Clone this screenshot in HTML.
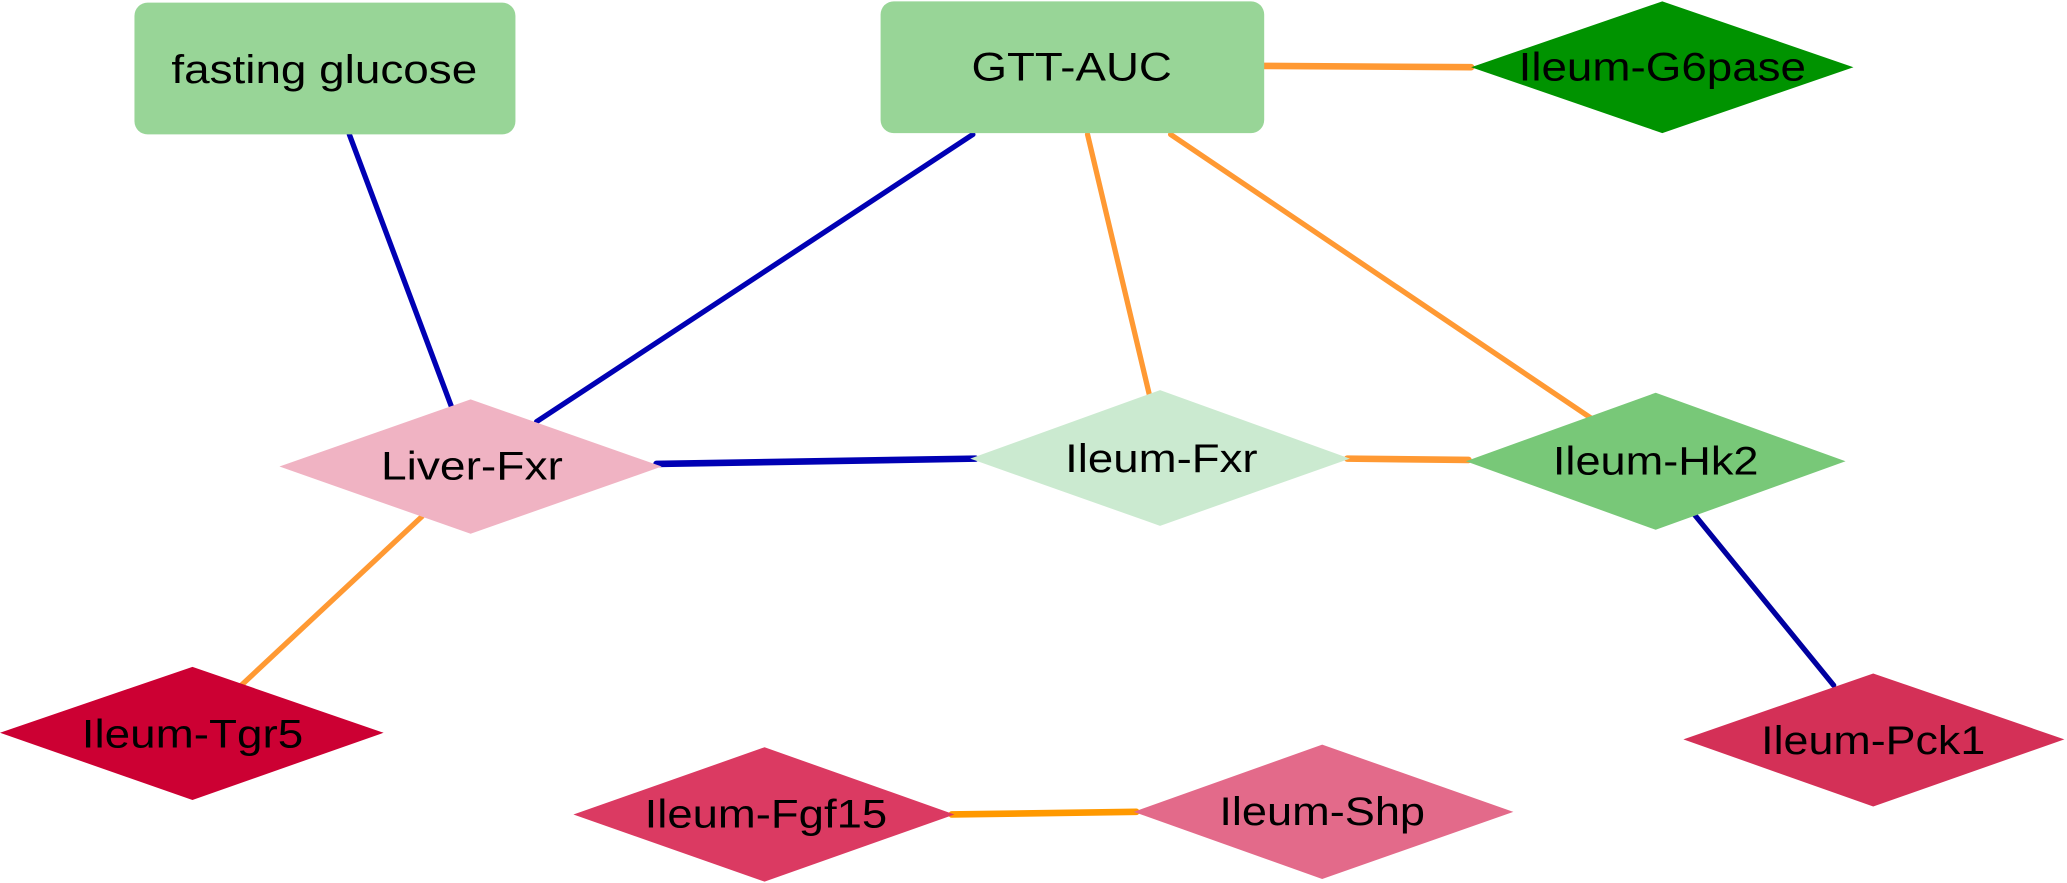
<!DOCTYPE html>
<html><head><meta charset="utf-8"><style>html,body{margin:0;padding:0;background:#fff;}svg{display:block;}</style></head>
<body>
<svg width="2067" height="883" viewBox="0 0 1568 670" preserveAspectRatio="none" xmlns="http://www.w3.org/2000/svg" font-family="Liberation Sans, Arial, sans-serif" font-size="30">
<g stroke-linecap="round">
<line x1="265" y1="102" x2="343" y2="310" stroke="#0000b4" stroke-width="4"/>
<line x1="738" y1="102" x2="407" y2="320" stroke="#0000b4" stroke-width="4"/>
<line x1="498" y1="352" x2="740" y2="348" stroke="#0000b4" stroke-width="5"/>
<line x1="825" y1="102" x2="872" y2="300" stroke="#ff9933" stroke-width="4"/>
<line x1="888" y1="102" x2="1208" y2="318" stroke="#ff9933" stroke-width="4"/>
<line x1="959" y1="50" x2="1116" y2="51" stroke="#ff9933" stroke-width="5"/>
<line x1="1022" y1="348" x2="1114" y2="349" stroke="#ff9933" stroke-width="5"/>
<line x1="1285" y1="390" x2="1391" y2="520" stroke="#0000a0" stroke-width="4"/>
<line x1="320" y1="392" x2="183" y2="520" stroke="#ff9933" stroke-width="4"/>
<line x1="722" y1="618" x2="862" y2="616" stroke="#ff9900" stroke-width="5"/>
</g>
<rect x="102" y="2" width="289" height="100" rx="10" fill="#98d597"/>
<rect x="668" y="1" width="291" height="100" rx="10" fill="#98d597"/>
<polygon points="1116,51 1261,1 1406,51 1261,101" fill="#009300"/>
<polygon points="212,354 357,303 502,354 357,405" fill="#f0b3c3"/>
<polygon points="736,348 880,296 1024,348 880,399" fill="#cbead0"/>
<polygon points="1112,350 1256,298 1400,350 1256,402" fill="#78c878"/>
<polygon points="0,556 146,506 291,556 146,607" fill="#cc0033"/>
<polygon points="1277,561 1421,511 1566,561 1421,612" fill="#d43057"/>
<polygon points="435,618 580,567 724,618 580,669" fill="#db3a62"/>
<polygon points="860,616 1003,565 1148,616 1003,667" fill="#e36a8a"/>
<g fill="#000" text-anchor="middle" lengthAdjust="spacingAndGlyphs">
<text x="246" y="63" textLength="232" lengthAdjust="spacingAndGlyphs">fasting glucose</text>
<text x="813" y="61" textLength="152" lengthAdjust="spacingAndGlyphs">GTT-AUC</text>
<text x="1261" y="61" textLength="218" lengthAdjust="spacingAndGlyphs">Ileum-G6pase</text>
<text x="358" y="364" textLength="138" lengthAdjust="spacingAndGlyphs">Liver-Fxr</text>
<text x="881" y="358" textLength="146" lengthAdjust="spacingAndGlyphs">Ileum-Fxr</text>
<text x="1256" y="360" textLength="156" lengthAdjust="spacingAndGlyphs">Ileum-Hk2</text>
<text x="146" y="567" textLength="168" lengthAdjust="spacingAndGlyphs">Ileum-Tgr5</text>
<text x="1421" y="572" textLength="170" lengthAdjust="spacingAndGlyphs">Ileum-Pck1</text>
<text x="581" y="628" textLength="184" lengthAdjust="spacingAndGlyphs">Ileum-Fgf15</text>
<text x="1003" y="626" textLength="156" lengthAdjust="spacingAndGlyphs">Ileum-Shp</text>
</g>
</svg>
</body></html>
